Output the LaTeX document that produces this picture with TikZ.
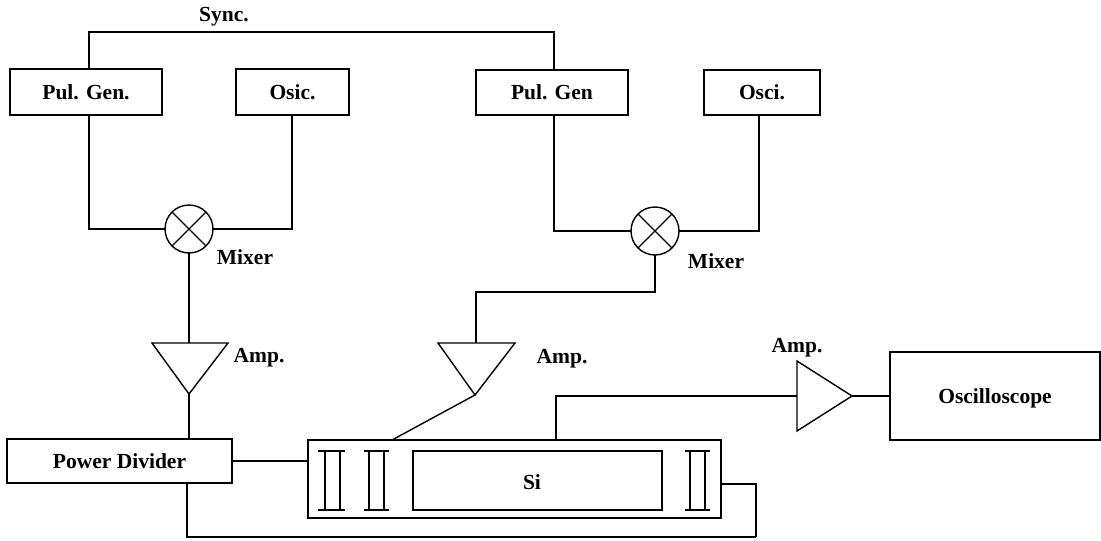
\documentclass[tikz,border=0pt]{standalone}
\usepackage{fontspec}
\setmainfont{Liberation Serif}
\usepackage{tikz}
\usetikzlibrary{positioning}

\tikzset{
  block/.style={draw, inner sep=0pt, outer sep=0pt, text height=14pt, text depth=0pt, font=\fontsize{21.5}{24}\selectfont\bfseries},
  mixer/.style={draw, circle, inner sep=0pt, outer sep=0pt, minimum size=48pt},
  tag/.style={inner sep=0pt, text height=14pt, text depth=0pt, font=\fontsize{21.5}{24}\selectfont\bfseries},
  bar/.style={draw, inner sep=0pt, outer sep=0pt, minimum width=15pt, minimum height=59pt}
}

\begin{document}
\begin{tikzpicture}[x=1pt, y=-1pt, line width=1.4pt]
    \useasboundingbox (0,0) rectangle (1101,541);

    \node[block, minimum width=152pt, minimum height=46pt] (pulgena) at (86,92) {Pul. Gen.};
    \node[block, minimum width=113pt, minimum height=46pt] (osica) at (292.5,92) {Osic.};
    \node[block, minimum width=152pt, minimum height=45pt] (pulgenb) at (552,92.5) {Pul. Gen};
    \node[block, minimum width=116pt, minimum height=45pt] (oscib) at (762,92.5) {Osci.};
    \node[mixer] (mixa) at (189,229) {};
    \node[mixer] (mixb) at (655,231) {};
    \node[block, minimum width=225pt, minimum height=44pt] (divider) at (119.5,461) {Power Divider};
    \node[block, minimum width=413pt, minimum height=78pt] (cell) at (514.5,479) {};
    \node[block, minimum width=249pt, minimum height=59pt] (si) at (537.5,480.5) {};
    \node[block, minimum width=210pt, minimum height=88pt] (scope) at (995,396) {Oscilloscope};

    \node[bar] (bara) at (332.5,480.5) {};
    \node[bar] (barb) at (376.5,480.5) {};
    \node[bar] (barc) at (697.5,480.5) {};

    \node[tag] (sync) at (224,14) {Sync.};
    \node[tag] (mixtaga) at (245,257.5) {Mixer};
    \node[tag] (mixtagb) at (716,261) {Mixer};
    \node[tag] (amptaga) at (259,355) {Amp.};
    \node[tag] (amptagb) at (562,356) {Amp.};
    \node[tag] (amptagc) at (797,345) {Amp.};
    \node[tag] (sitag) at (532,482) {Si};

    \coordinate (ampatop) at (189,343);
    \coordinate (ampatip) at (189,394);
    \coordinate (ampbtop) at (476,343);
    \coordinate (ampbtip) at (475,395);
    \coordinate (ampcin) at (797,396);
    \coordinate (ampctip) at (852,396);
    \coordinate (celltapb) at (392,440);
    \coordinate (celltapc) at (556,440);
    \coordinate (syncturn) at (89,32);
    \coordinate (mixbturn) at (476,292);
    \coordinate (feedturn) at (756,537);

    % amplifiers
    \draw (152,343) -- (228,343) -- (ampatip) -- cycle;
    \draw (438,343) -- (515,343) -- (ampbtip) -- cycle;
    \draw (797,361) -- (ampctip) -- (797,431) -- cycle;

    % mixer crosses
    \draw (mixa.north west) -- (mixa.south east);
    \draw (mixa.north east) -- (mixa.south west);
    \draw (mixb.north west) -- (mixb.south east);
    \draw (mixb.north east) -- (mixb.south west);

    % bar ends
    \draw ([xshift=-7pt]bara.north west) -- ([xshift=5pt]bara.north east);
    \draw ([xshift=-7pt]bara.south west) -- ([xshift=5pt]bara.south east);
    \draw ([xshift=-5pt]barb.north west) -- ([xshift=5pt]barb.north east);
    \draw ([xshift=-5pt]barb.south west) -- ([xshift=5pt]barb.south east);
    \draw ([xshift=-5pt]barc.north west) -- ([xshift=5pt]barc.north east);
    \draw ([xshift=-5pt]barc.south west) -- ([xshift=5pt]barc.south east);

    \draw ([xshift=3pt]pulgena.north) -- (syncturn) -| ([xshift=2pt]pulgenb.north);
    \draw ([xshift=3pt]pulgena.south) |- (mixa.west);
    \draw ([xshift=-0.5pt]osica.south) |- (mixa.east);
    \draw ([xshift=2pt]pulgenb.south) |- (mixb.west);
    \draw ([xshift=-3pt]oscib.south) |- (mixb.east);
    \draw (mixa.south) -- (ampatop);
    \draw (mixb.south) |- (mixbturn) -- (ampbtop);
    \draw (ampatip) -- (ampatip |- divider.north);
    \draw (ampbtip) -- (celltapb);
    \draw (divider.east) -- (divider.east -| cell.west);
    \draw (celltapc) |- (ampcin);
    \draw (ampctip) -- (ampctip -| scope.west);
    \draw ([yshift=-5pt]cell.east) -| (feedturn);
    \draw ([xshift=67.5pt]divider.south) |- (feedturn);
  \end{tikzpicture}
\end{document}
